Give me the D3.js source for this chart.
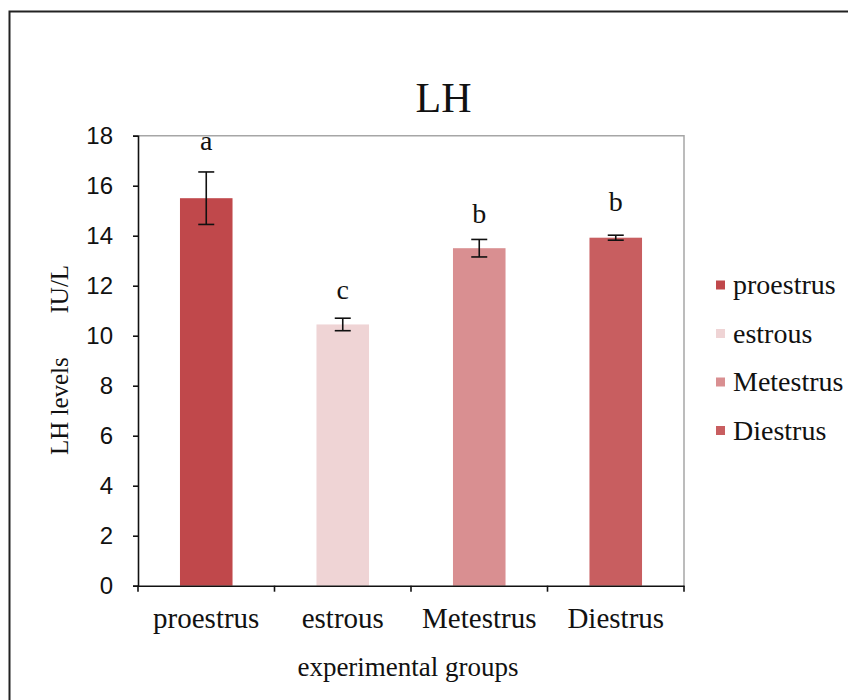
<!DOCTYPE html>
<html>
<head>
<meta charset="utf-8">
<script src="https://d3js.org/d3.v7.min.js"></script>
<style>
  body { margin: 0; background: #fff; }
  text.serif { font-family: "Liberation Serif", "Times New Roman", serif; fill: #111; }
  text.sans  { font-family: "Liberation Sans", Arial, sans-serif; fill: #111; }
</style>
</head>
<body>
<svg id="chart" width="848" height="700"></svg>
<script>
  // data
  const groups   = ['proestrus', 'estrous', 'Metestrus', 'Diestrus'];
  const means    = [15.5, 10.45, 13.5, 13.92];
  const errors   = [1.05, 0.25, 0.35, 0.1];
  const letters  = ['a', 'c', 'b', 'b'];
  const letterAt = [17.43, 11.47, 14.52, 14.99];   // baseline of the letter, in LH units
  const yTicks   = [0, 2, 4, 6, 8, 10, 12, 14, 16, 18];
  const colors   = ['#c0484b', '#efd4d5', '#d98f91', '#c85e60'];

  const svg = d3.select('#chart');
  const plotL = 138, plotR = 684, plotT = 135.7, plotB = 585.7;

  svg.append('rect').attr('width', 848).attr('height', 700).attr('fill', '#fff');

  // outer frame (runs off the right and bottom edges)
  svg.append('rect')
    .attr('x', 9.5).attr('y', 11.5)
    .attr('width', 900).attr('height', 900)
    .attr('fill', 'none').attr('stroke', '#222').attr('stroke-width', 2);

  let x = d3.scaleBand().domain(groups).range([plotL, plotR]);
  let y = d3.scaleLinear().domain([0, 18]).range([plotB, plotT]);
  let barW = x.bandwidth() * 0.385;

  // plot area border, top and right
  svg.append('path')
    .attr('d', `M${plotL},${plotT}H${plotR}V${plotB}`)
    .attr('fill', 'none').attr('stroke', '#a6a6a6').attr('stroke-width', 1.5);

  // bars
  svg.selectAll('rect.bar')
    .data(groups)
    .enter().append('rect')
    .attr('class', 'bar')
    .attr('x', (d) => x(d) + x.bandwidth() / 2 - barW / 2)
    .attr('width', barW)
    .attr('y', (d, i) => y(means[i]))
    .attr('height', (d, i) => plotB - y(means[i]))
    .attr('fill', (d, i) => colors[i]);

  // error bars
  let err = svg.selectAll('g.err')
    .data(groups)
    .enter().append('g')
    .attr('class', 'err')
    .attr('stroke', '#111').attr('stroke-width', 1.6);
  err.append('line')
    .attr('x1', (d) => x(d) + x.bandwidth() / 2)
    .attr('x2', (d) => x(d) + x.bandwidth() / 2)
    .attr('y1', (d, i) => y(means[i] + errors[i]))
    .attr('y2', (d, i) => y(means[i] - errors[i]));
  [1, -1].forEach((s) => {
    err.append('line')
      .attr('x1', (d) => x(d) + x.bandwidth() / 2 - 8)
      .attr('x2', (d) => x(d) + x.bandwidth() / 2 + 8)
      .attr('y1', (d, i) => y(means[i] + s * errors[i]))
      .attr('y2', (d, i) => y(means[i] + s * errors[i]));
  });

  // significance letters
  svg.selectAll('text.letter')
    .data(groups)
    .enter().append('text')
    .attr('class', 'serif')
    .attr('x', (d) => x(d) + x.bandwidth() / 2)
    .attr('y', (d, i) => y(letterAt[i]))
    .attr('text-anchor', 'middle')
    .attr('font-size', 28)
    .text((d, i) => letters[i]);

  // y axis
  let yAxis = svg.append('g')
    .attr('transform', `translate(${plotL},0)`)
    .call(d3.axisLeft(y).tickValues(yTicks).tickSize(5).tickPadding(20));
  yAxis.select('.domain').attr('stroke', '#111').attr('stroke-width', 1.6);
  yAxis.selectAll('.tick line').attr('stroke', '#111').attr('stroke-width', 1.6);
  yAxis.selectAll('.tick text')
    .attr('class', 'sans')
    .attr('font-size', 24)
    .attr('fill', '#111');

  // x axis: ticks sit on the band edges, labels in the middle
  let xAxis = svg.append('g')
    .attr('transform', `translate(0,${plotB})`)
    .call(d3.axisBottom(x).tickSize(0).tickSizeOuter(0));
  xAxis.select('.domain').attr('stroke', '#111').attr('stroke-width', 1.6);
  xAxis.selectAll('.tick text')
    .attr('class', 'serif')
    .attr('font-size', 29)
    .attr('y', 42).attr('dy', 0)
    .attr('fill', '#111');
  let edges = groups.map((d) => x(d)).concat([plotR]);
  xAxis.selectAll('line.edge')
    .data(edges)
    .enter().append('line')
    .attr('class', 'edge')
    .attr('x1', (d) => d).attr('x2', (d) => d)
    .attr('y1', 0).attr('y2', 6)
    .attr('stroke', '#111').attr('stroke-width', 1.6);

  // titles
  svg.append('text')
    .attr('class', 'serif')
    .attr('x', 443.5).attr('y', 112)
    .attr('text-anchor', 'middle')
    .attr('font-size', 42)
    .text('LH');

  svg.append('text')
    .attr('class', 'serif')
    .attr('x', 408).attr('y', 676)
    .attr('text-anchor', 'middle')
    .attr('font-size', 27)
    .text('experimental groups');

  svg.append('text')
    .attr('class', 'serif')
    .attr('transform', 'translate(68,360) rotate(-90)')
    .attr('text-anchor', 'middle')
    .attr('font-size', 25)
    .style('white-space', 'pre')
    .text('LH levels       IU/L');

  // legend
  let legend = svg.selectAll('g.legend')
    .data(groups)
    .enter().append('g')
    .attr('class', 'legend')
    .attr('transform', (d, i) => `translate(716,${285 + i * 48.5})`);
  legend.append('rect')
    .attr('x', 0).attr('y', -4.5)
    .attr('width', 9).attr('height', 9)
    .attr('fill', (d, i) => colors[i]);
  legend.append('text')
    .attr('class', 'serif')
    .attr('x', 17).attr('y', 9)
    .attr('font-size', 28)
    .text((d) => d);
</script>
</body>
</html>
